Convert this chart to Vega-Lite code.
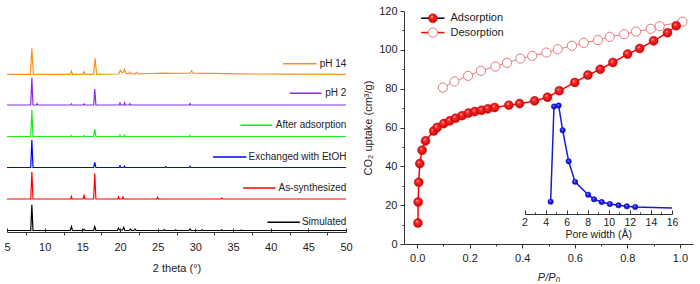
{
  "$schema": "https://vega.github.io/schema/vega-lite/v6.json",
  "padding": {"left": 3, "top": 5, "right": 3, "bottom": 0},
  "spacing": 58,
  "bounds": "flush",
  "config": {
    "view": {"stroke": null},
    "font": "Liberation Sans",
    "axis": {"domainColor": "#333", "tickColor": "#333", "labelColor": "#222", "titleColor": "#222", "labelFontSize": 11, "titleFontSize": 11, "titleFontWeight": "normal", "grid": false, "labelFont": "Liberation Sans", "titleFont": "Liberation Sans", "labelOverlap": false, "labelFlush": false}
  },
  "datasets": {
    "xrd": [
      {"s":"Simulated","x":5,"y":1.5},{"s":"Simulated","x":8.15,"y":1.5},{"s":"Simulated","x":8.3,"y":27.3},{"s":"Simulated","x":8.45,"y":1.5},{"s":"Simulated","x":13.4,"y":1.5},{"s":"Simulated","x":13.55,"y":5.3},{"s":"Simulated","x":13.7,"y":1.5},{"s":"Simulated","x":15.1,"y":1.5},{"s":"Simulated","x":15.23,"y":2.8},{"s":"Simulated","x":15.35,"y":1.5},{"s":"Simulated","x":16.5,"y":1.5},{"s":"Simulated","x":16.65,"y":5.3},{"s":"Simulated","x":16.8,"y":1.5},{"s":"Simulated","x":19.65,"y":1.5},{"s":"Simulated","x":19.8,"y":3.8},{"s":"Simulated","x":19.95,"y":2},{"s":"Simulated","x":20.35,"y":2},{"s":"Simulated","x":20.5,"y":4.6},{"s":"Simulated","x":20.65,"y":1.5},{"s":"Simulated","x":21.25,"y":1.5},{"s":"Simulated","x":21.4,"y":2.8},{"s":"Simulated","x":21.55,"y":1.5},{"s":"Simulated","x":21.85,"y":1.5},{"s":"Simulated","x":22,"y":2.8},{"s":"Simulated","x":22.15,"y":1.5},{"s":"Simulated","x":25.8,"y":1.5},{"s":"Simulated","x":25.9,"y":2.3},{"s":"Simulated","x":26,"y":1.5},{"s":"Simulated","x":27.3,"y":1.5},{"s":"Simulated","x":27.4,"y":2.2},{"s":"Simulated","x":27.5,"y":1.5},{"s":"Simulated","x":29.15,"y":1.5},{"s":"Simulated","x":29.3,"y":3},{"s":"Simulated","x":29.45,"y":1.5},{"s":"Simulated","x":30.8,"y":1.5},{"s":"Simulated","x":30.9,"y":2.2},{"s":"Simulated","x":31,"y":1.5},{"s":"Simulated","x":33.4,"y":1.5},{"s":"Simulated","x":33.5,"y":2.2},{"s":"Simulated","x":33.6,"y":1.5},{"s":"Simulated","x":36,"y":1.5},{"s":"Simulated","x":36.1,"y":2},{"s":"Simulated","x":36.2,"y":1.5},{"s":"Simulated","x":50,"y":1.5},
      {"s":"As-synthesized","x":5,"y":33},{"s":"As-synthesized","x":8.15,"y":33},{"s":"As-synthesized","x":8.3,"y":60},{"s":"As-synthesized","x":8.45,"y":33},{"s":"As-synthesized","x":13.45,"y":33},{"s":"As-synthesized","x":13.55,"y":35.5},{"s":"As-synthesized","x":13.65,"y":33},{"s":"As-synthesized","x":15.1,"y":33},{"s":"As-synthesized","x":15.23,"y":36.5},{"s":"As-synthesized","x":15.35,"y":33},{"s":"As-synthesized","x":16.5,"y":33},{"s":"As-synthesized","x":16.65,"y":58.5},{"s":"As-synthesized","x":16.8,"y":33},{"s":"As-synthesized","x":19.7,"y":33},{"s":"As-synthesized","x":19.8,"y":35},{"s":"As-synthesized","x":19.9,"y":33},{"s":"As-synthesized","x":20.3,"y":33},{"s":"As-synthesized","x":20.4,"y":35},{"s":"As-synthesized","x":20.5,"y":33},{"s":"As-synthesized","x":24.9,"y":33},{"s":"As-synthesized","x":25,"y":34.8},{"s":"As-synthesized","x":25.1,"y":33},{"s":"As-synthesized","x":33.4,"y":33},{"s":"As-synthesized","x":33.5,"y":34},{"s":"As-synthesized","x":33.6,"y":33},{"s":"As-synthesized","x":50,"y":33},
      {"s":"Exchanged with EtOH","x":5,"y":64.5},{"s":"Exchanged with EtOH","x":8.15,"y":64.5},{"s":"Exchanged with EtOH","x":8.3,"y":92},{"s":"Exchanged with EtOH","x":8.45,"y":64.5},{"s":"Exchanged with EtOH","x":16.5,"y":64.5},{"s":"Exchanged with EtOH","x":16.65,"y":69.5},{"s":"Exchanged with EtOH","x":16.8,"y":64.5},{"s":"Exchanged with EtOH","x":19.9,"y":64.5},{"s":"Exchanged with EtOH","x":20,"y":66.2},{"s":"Exchanged with EtOH","x":20.1,"y":64.5},{"s":"Exchanged with EtOH","x":20.5,"y":64.5},{"s":"Exchanged with EtOH","x":20.6,"y":66},{"s":"Exchanged with EtOH","x":20.7,"y":64.5},{"s":"Exchanged with EtOH","x":26,"y":64.5},{"s":"Exchanged with EtOH","x":26.1,"y":65.3},{"s":"Exchanged with EtOH","x":26.2,"y":64.5},{"s":"Exchanged with EtOH","x":29.2,"y":64.5},{"s":"Exchanged with EtOH","x":29.3,"y":65.7},{"s":"Exchanged with EtOH","x":29.4,"y":64.5},{"s":"Exchanged with EtOH","x":50,"y":64.5},
      {"s":"After adsorption","x":5,"y":95.5},{"s":"After adsorption","x":8.15,"y":95.5},{"s":"After adsorption","x":8.3,"y":122},{"s":"After adsorption","x":8.45,"y":95.5},{"s":"After adsorption","x":13.45,"y":95.5},{"s":"After adsorption","x":13.55,"y":96.4},{"s":"After adsorption","x":13.65,"y":95.5},{"s":"After adsorption","x":15.13,"y":95.5},{"s":"After adsorption","x":15.23,"y":96.4},{"s":"After adsorption","x":15.33,"y":95.5},{"s":"After adsorption","x":16.5,"y":95.5},{"s":"After adsorption","x":16.65,"y":102.8},{"s":"After adsorption","x":16.8,"y":95.5},{"s":"After adsorption","x":19.9,"y":95.5},{"s":"After adsorption","x":20,"y":96.8},{"s":"After adsorption","x":20.1,"y":95.5},{"s":"After adsorption","x":20.5,"y":95.5},{"s":"After adsorption","x":20.6,"y":96.8},{"s":"After adsorption","x":20.7,"y":95.5},{"s":"After adsorption","x":29.2,"y":95.5},{"s":"After adsorption","x":29.3,"y":96.5},{"s":"After adsorption","x":29.4,"y":95.5},{"s":"After adsorption","x":50,"y":95.5},
      {"s":"pH 2","x":5,"y":127},{"s":"pH 2","x":8.15,"y":127},{"s":"pH 2","x":8.3,"y":154},{"s":"pH 2","x":8.45,"y":127},{"s":"pH 2","x":8.9,"y":127},{"s":"pH 2","x":9,"y":128.5},{"s":"pH 2","x":9.1,"y":127},{"s":"pH 2","x":13.45,"y":127},{"s":"pH 2","x":13.55,"y":128.2},{"s":"pH 2","x":13.65,"y":127},{"s":"pH 2","x":15.13,"y":127},{"s":"pH 2","x":15.23,"y":128.2},{"s":"pH 2","x":15.33,"y":127},{"s":"pH 2","x":16.5,"y":127},{"s":"pH 2","x":16.65,"y":143},{"s":"pH 2","x":16.8,"y":127},{"s":"pH 2","x":19.9,"y":127},{"s":"pH 2","x":20,"y":129},{"s":"pH 2","x":20.1,"y":127},{"s":"pH 2","x":20.5,"y":127},{"s":"pH 2","x":20.6,"y":129.2},{"s":"pH 2","x":20.7,"y":127},{"s":"pH 2","x":21.2,"y":127},{"s":"pH 2","x":21.3,"y":128.3},{"s":"pH 2","x":21.4,"y":127},{"s":"pH 2","x":29.2,"y":127},{"s":"pH 2","x":29.3,"y":128.5},{"s":"pH 2","x":29.4,"y":127},{"s":"pH 2","x":50,"y":127},
      {"s":"pH 14","x":5,"y":157.7},{"s":"pH 14","x":8.1,"y":157.7},{"s":"pH 14","x":8.3,"y":183.7},{"s":"pH 14","x":8.5,"y":157.7},{"s":"pH 14","x":13.4,"y":157.7},{"s":"pH 14","x":13.55,"y":160.7},{"s":"pH 14","x":13.7,"y":157.7},{"s":"pH 14","x":15.08,"y":157.7},{"s":"pH 14","x":15.23,"y":160.2},{"s":"pH 14","x":15.38,"y":157.7},{"s":"pH 14","x":16.5,"y":157.7},{"s":"pH 14","x":16.7,"y":173.7},{"s":"pH 14","x":16.9,"y":157.7},{"s":"pH 14","x":19.85,"y":158},{"s":"pH 14","x":20.05,"y":161.8},{"s":"pH 14","x":20.25,"y":159.5},{"s":"pH 14","x":20.45,"y":159.8},{"s":"pH 14","x":20.6,"y":162.8},{"s":"pH 14","x":20.8,"y":158.3},{"s":"pH 14","x":21.15,"y":158.3},{"s":"pH 14","x":21.3,"y":160},{"s":"pH 14","x":21.45,"y":158.3},{"s":"pH 14","x":22.05,"y":158.2},{"s":"pH 14","x":22.2,"y":159.8},{"s":"pH 14","x":22.35,"y":158.2},{"s":"pH 14","x":24,"y":158.5},{"s":"pH 14","x":26,"y":158.9},{"s":"pH 14","x":27,"y":158.7},{"s":"pH 14","x":29.3,"y":158.9},{"s":"pH 14","x":29.5,"y":161.2},{"s":"pH 14","x":29.7,"y":158.8},{"s":"pH 14","x":32,"y":158.6},{"s":"pH 14","x":36,"y":158.1},{"s":"pH 14","x":42,"y":157.8},{"s":"pH 14","x":50,"y":157.6}
    ],
    "xrdlab": [
      {"s":"pH 14","x1":41.65,"x2":46.08,"tx":50.05,"y":168.3},
      {"s":"pH 2","x1":42.54,"x2":46.74,"tx":50.05,"y":138.7},
      {"s":"After adsorption","x1":35.98,"x2":40.19,"tx":50.05,"y":106.7},
      {"s":"Exchanged with EtOH","x1":32.36,"x2":36.78,"tx":50.05,"y":75},
      {"s":"As-synthesized","x1":36.34,"x2":40.63,"tx":50.05,"y":44},
      {"s":"Simulated","x1":39.57,"x2":43.87,"tx":50.05,"y":9.7}
    ],
    "ads": [
      {"p":0.003,"v":10.8},{"p":0.004,"v":21.6},{"p":0.006,"v":31.8},{"p":0.01,"v":41.4},{"p":0.019,"v":48.3},{"p":0.032,"v":53.1},{"p":0.063,"v":58.2},{"p":0.076,"v":60},{"p":0.101,"v":62},{"p":0.124,"v":63.4},{"p":0.146,"v":64.8},{"p":0.171,"v":66.1},{"p":0.195,"v":67.4},{"p":0.219,"v":68.2},{"p":0.245,"v":68.9},{"p":0.269,"v":69.6},{"p":0.295,"v":70.3},{"p":0.349,"v":71.5},{"p":0.39,"v":72.3},{"p":0.447,"v":73.7},{"p":0.496,"v":75.6},{"p":0.541,"v":78.9},{"p":0.6,"v":83.2},{"p":0.65,"v":87},{"p":0.697,"v":90},{"p":0.745,"v":93.5},{"p":0.801,"v":97.8},{"p":0.847,"v":100.7},{"p":0.9,"v":104.6},{"p":0.953,"v":108.8},{"p":0.986,"v":112.4}
    ],
    "des": [
      {"p":0.098,"v":80.6},{"p":0.142,"v":83.7},{"p":0.194,"v":86.6},{"p":0.243,"v":89.2},{"p":0.298,"v":91.4},{"p":0.342,"v":93.3},{"p":0.393,"v":95.5},{"p":0.438,"v":96.9},{"p":0.492,"v":98.6},{"p":0.535,"v":100.3},{"p":0.589,"v":102.1},{"p":0.634,"v":103.6},{"p":0.688,"v":105},{"p":0.733,"v":106.7},{"p":0.788,"v":108.1},{"p":0.833,"v":109.4},{"p":0.889,"v":110.8},{"p":0.923,"v":112.2},{"p":1.01,"v":114.5}
    ],
    "psd": [
      {"w":4.48,"v":21.8,"m":true},{"w":4.8,"v":70.8,"m":true},{"w":5.24,"v":71.3,"m":true},{"w":5.62,"v":58.6,"m":true},{"w":6.19,"v":42.6,"m":true},{"w":6.8,"v":32,"m":true},{"w":8.04,"v":25.4,"m":true},{"w":8.6,"v":23,"m":true},{"w":9.33,"v":21.6,"m":true},{"w":10.1,"v":20.6,"m":true},{"w":10.92,"v":19.9,"m":true},{"w":11.71,"v":19.4,"m":true},{"w":12.51,"v":19.1,"m":true},{"w":16,"v":18.6,"m":false}
    ],
    "leg": [
      {"k":"Adsorption","x1":0.015,"x2":0.104,"xc":0.06,"tx":0.127,"y":116.3},
      {"k":"Desorption","x1":0.015,"x2":0.104,"xc":0.06,"tx":0.127,"y":108.9}
    ]
  },
  "hconcat": [
    {
      "width": 339,
      "height": 221,
      "resolve": {"axis": {"x": "independent"}},
      "layer": [
        {
          "data": {"name": "xrd"},
          "mark": {"type": "line", "strokeWidth": 1.2},
          "encoding": {
            "x": {"field": "x", "type": "quantitative", "scale": {"domain": [5, 50], "nice": false, "zero": false},
              "axis": {"orient": "bottom", "title": "2 theta (°)", "values": [5,10,15,20,25,30,35,40,45,50], "format": "d",
                "tickSize": -4, "labelPadding": 13, "titlePadding": 10}},
            "y": {"field": "y", "type": "quantitative", "scale": {"domain": [0, 221], "nice": false, "zero": false}, "axis": null},
            "color": {"field": "s", "type": "nominal", "legend": null,
              "scale": {"domain": ["Simulated","As-synthesized","Exchanged with EtOH","After adsorption","pH 2","pH 14"],
                "range": ["#000000","#ff0000","#0000ff","#1ee81e","#8a2be2","#f7921e"]}}
          }
        },
        {
          "data": {"name": "xrdlab"},
          "mark": {"type": "rule", "strokeWidth": 1.5},
          "encoding": {
            "x": {"field": "x1", "type": "quantitative", "axis": {"orient": "bottom", "values": [7.5,12.5,17.5,22.5,27.5,32.5,37.5,42.5,47.5], "labels": false, "domain": false, "tickSize": 3, "title": null}},
            "x2": {"field": "x2"},
            "y": {"field": "y", "type": "quantitative"},
            "color": {"field": "s", "type": "nominal", "legend": null}
          }
        },
        {
          "data": {"name": "xrdlab"},
          "mark": {"type": "text", "align": "right", "baseline": "middle", "fontSize": 10, "color": "#222"},
          "encoding": {
            "x": {"field": "tx", "type": "quantitative", "axis": null},
            "y": {"field": "y", "type": "quantitative"},
            "text": {"field": "s"}
          }
        },
        {
          "mark": {"type": "text", "align": "left", "baseline": "middle", "fontSize": 13, "color": "#222"},
          "encoding": {
            "x": {"datum": 4.2, "type": "quantitative", "axis": null},
            "y": {"datum": 209.3, "type": "quantitative"},
            "text": {"value": "(a)"}
          }
        }
      ]
    },
    {
      "width": 289,
      "height": 233,
      "resolve": {"scale": {"x": "independent", "y": "independent"}, "axis": {"x": "independent", "y": "independent"}},
      "layer": [
        {
          "resolve": {"axis": {"x": "independent", "y": "independent"}},
          "layer": [
            {
              "data": {"name": "des"},
              "mark": {"type": "line", "color": "#e87878", "strokeWidth": 1},
              "encoding": {
                "x": {"field": "p", "type": "quantitative", "scale": {"domain": [-0.05, 1.05], "nice": false, "zero": false},
                  "axis": {"orient": "bottom", "title": "P/P₀", "titleFontStyle": "italic", "values": [0,0.2,0.4,0.6,0.8,1.0], "format": ".1f",
                    "tickSize": 4, "labelPadding": 4, "titlePadding": 8}},
                "y": {"field": "v", "type": "quantitative", "scale": {"domain": [0, 120], "nice": false},
                  "axis": {"orient": "left", "title": "CO₂ uptake (cm³/g)", "values": [0,20,40,60,80,100,120], "format": "d",
                    "tickSize": 4, "labelPadding": 3, "titlePadding": 5}}
              }
            },
            {
              "data": {"name": "des"},
              "mark": {"type": "point", "shape": "circle", "filled": false, "fill": "#ffffff", "fillOpacity": 1, "stroke": "#e87878", "strokeWidth": 1, "size": 85, "opacity": 1},
              "encoding": {
                "x": {"field": "p", "type": "quantitative", "axis": {"orient": "bottom", "values": [0.1,0.3,0.5,0.7,0.9], "labels": false, "domain": false, "tickSize": 2, "title": null}},
                "y": {"field": "v", "type": "quantitative", "axis": {"orient": "left", "values": [10,30,50,70,90,110], "labels": false, "domain": false, "tickSize": 2, "title": null}}
              }
            },
            {
              "data": {"name": "ads"},
              "mark": {"type": "line", "color": "#ff0000", "strokeWidth": 1.5},
              "encoding": {
                "x": {"field": "p", "type": "quantitative", "axis": null},
                "y": {"field": "v", "type": "quantitative", "axis": null}
              }
            },
            {
              "data": {"name": "ads"},
              "mark": {"type": "point", "shape": "circle", "filled": true, "opacity": 1, "size": 82,
                "fill": {"gradient": "radial", "x1": 0.38, "y1": 0.32, "r1": 0, "x2": 0.5, "y2": 0.5, "r2": 0.55,
                  "stops": [{"offset": 0, "color": "#ffe6e6"}, {"offset": 0.25, "color": "#ff3030"}, {"offset": 1, "color": "#c40000"}]},
                "stroke": "#d40000", "strokeWidth": 0.4},
              "encoding": {
                "x": {"field": "p", "type": "quantitative", "axis": null},
                "y": {"field": "v", "type": "quantitative", "axis": null}
              }
            },
            {
              "data": {"name": "leg"},
              "mark": {"type": "rule", "strokeWidth": 1.5},
              "encoding": {
                "x": {"field": "x1", "type": "quantitative", "axis": null},
                "x2": {"field": "x2"},
                "y": {"field": "y", "type": "quantitative", "axis": null},
                "color": {"field": "k", "type": "nominal", "legend": null, "scale": {"domain": ["Adsorption", "Desorption"], "range": ["#ff0000", "#e87878"]}}
              }
            },
            {
              "data": {"name": "leg"},
              "transform": [{"filter": "datum.k == 'Desorption'"}],
              "mark": {"type": "point", "shape": "circle", "filled": false, "fill": "#ffffff", "fillOpacity": 1, "stroke": "#e87878", "strokeWidth": 1, "size": 85, "opacity": 1},
              "encoding": {
                "x": {"field": "xc", "type": "quantitative", "axis": null},
                "y": {"field": "y", "type": "quantitative", "axis": null}
              }
            },
            {
              "data": {"name": "leg"},
              "transform": [{"filter": "datum.k == 'Adsorption'"}],
              "mark": {"type": "point", "shape": "circle", "filled": true, "opacity": 1, "size": 82,
                "fill": {"gradient": "radial", "x1": 0.38, "y1": 0.32, "r1": 0, "x2": 0.5, "y2": 0.5, "r2": 0.55,
                  "stops": [{"offset": 0, "color": "#ffe6e6"}, {"offset": 0.25, "color": "#ff3030"}, {"offset": 1, "color": "#c40000"}]},
                "stroke": "#d40000", "strokeWidth": 0.4},
              "encoding": {
                "x": {"field": "xc", "type": "quantitative", "axis": null},
                "y": {"field": "y", "type": "quantitative", "axis": null}
              }
            },
            {
              "data": {"name": "leg"},
              "mark": {"type": "text", "align": "left", "baseline": "middle", "fontSize": 11, "color": "#222"},
              "encoding": {
                "x": {"field": "tx", "type": "quantitative", "axis": null},
                "y": {"field": "y", "type": "quantitative", "axis": null},
                "text": {"field": "k"}
              }
            },
            {
              "mark": {"type": "text", "align": "left", "baseline": "middle", "fontSize": 13, "color": "#222"},
              "encoding": {
                "x": {"datum": -0.216, "type": "quantitative", "axis": null},
                "y": {"datum": 114.1, "type": "quantitative", "axis": null},
                "text": {"value": "(b)"}
              }
            }
          ]
        },
        {
          "resolve": {"axis": {"x": "independent"}},
          "layer": [
            {
              "data": {"name": "psd"},
              "mark": {"type": "line", "color": "#1a1ad8", "strokeWidth": 1.5},
              "encoding": {
                "x": {"field": "w", "type": "quantitative", "scale": {"domain": [2, 16], "range": [120.5, 268], "nice": false, "zero": false},
                  "axis": {"title": "Pore width (Å)", "orient": "bottom", "offset": -30, "values": [2,4,6,8,10,12,14,16], "format": "d",
                    "tickSize": -4, "labelPadding": 7, "titlePadding": 2, "labelFontSize": 10.5, "titleFontSize": 10.5}},
                "y": {"field": "v", "type": "quantitative", "scale": {"domain": [0, 120], "nice": false}, "axis": null}
              }
            },
            {
              "data": {"name": "psd"},
              "transform": [{"filter": "datum.m"}],
              "mark": {"type": "point", "shape": "circle", "filled": true, "opacity": 1, "size": 30,
                "fill": {"gradient": "radial", "x1": 0.38, "y1": 0.32, "r1": 0, "x2": 0.5, "y2": 0.5, "r2": 0.55,
                  "stops": [{"offset": 0, "color": "#e6e6ff"}, {"offset": 0.3, "color": "#3030ff"}, {"offset": 1, "color": "#0000b0"}]},
                "stroke": "#0000c0", "strokeWidth": 0.4},
              "encoding": {
                "x": {"field": "w", "type": "quantitative", "axis": {"orient": "bottom", "offset": -30, "values": [3,5,7,9,11,13,15], "labels": false, "domain": false, "tickSize": -2, "title": null}},
                "y": {"field": "v", "type": "quantitative", "axis": null}
              }
            },
            {
              "mark": {"type": "rule", "color": "#1a1ad8", "strokeWidth": 1.5},
              "encoding": {
                "x": {"datum": 9.11, "type": "quantitative", "axis": null},
                "x2": {"datum": 10.76},
                "y": {"datum": 33.5, "type": "quantitative", "axis": null}
              }
            },
            {
              "mark": {"type": "point", "shape": "circle", "filled": true, "opacity": 1, "size": 30,
                "fill": {"gradient": "radial", "x1": 0.38, "y1": 0.32, "r1": 0, "x2": 0.5, "y2": 0.5, "r2": 0.55,
                  "stops": [{"offset": 0, "color": "#e6e6ff"}, {"offset": 0.3, "color": "#3030ff"}, {"offset": 1, "color": "#0000b0"}]},
                "stroke": "#0000c0", "strokeWidth": 0.4},
              "encoding": {
                "x": {"datum": 10.07, "type": "quantitative", "axis": null},
                "y": {"datum": 33.5, "type": "quantitative", "axis": null}
              }
            },
            {
              "mark": {"type": "text", "align": "left", "baseline": "middle", "fontSize": 10.5, "color": "#222"},
              "encoding": {
                "x": {"datum": 10.92, "type": "quantitative", "axis": null},
                "y": {"datum": 33.5, "type": "quantitative", "axis": null},
                "text": {"value": "DZU-64"}
              }
            }
          ]
        }
      ]
    }
  ]
}
